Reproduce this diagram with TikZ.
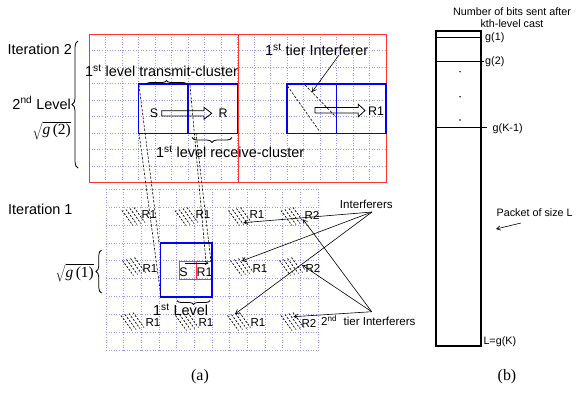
\documentclass[tikz,border=0pt]{standalone}
\usepackage[no-math]{fontspec}
\setmainfont{Liberation Sans}
\newfontfamily\timesf{Liberation Serif}
\usetikzlibrary{arrows.meta,decorations.pathreplacing,calc}
\begin{document}
\begin{tikzpicture}[x=1bp,y=-1bp]
\useasboundingbox (0,0) rectangle (582,393);
\tikzset{
 gridln/.style={draw=blue!40, line width=0.6bp, dotted},
 redbox/.style={draw=red!80!white, line width=1bp},
 bluebox/.style={draw=blue, line width=1.8bp},
 dline/.style={dash pattern=on 2.5bp off 1.5bp, line width=0.6bp},
 hatchln/.style={dash pattern=on 2bp off 1.5bp, line width=0.7bp},
 lbig/.style={font=\fontsize{14.5}{16}\selectfont, inner sep=0},
 lmid/.style={font=\fontsize{11.6}{13}\selectfont, inner sep=0},
 lsr/.style={font=\fontsize{12.5}{14}\selectfont, inner sep=0},
 lsmall/.style={font=\fontsize{10.8}{12.3}\selectfont, inner sep=0},
 ptr/.style={-{Straight Barb[length=4bp,width=4.5bp]}, line width=0.6bp},
 brc/.style={decorate, decoration={brace, amplitude=#1}, line width=0.8bp},
 hatchblk/.pic={\foreach \i in {0,...,3} \draw[hatchln] ({-11.5+4*\i},{-7+(-1)*\i}) -- ++(11,15);}
}
% ---------- top grid ----------
\foreach \k in {0,...,18} \draw[gridln] ({89+16.5*\k},34) -- ({89+16.5*\k},182.5);
\foreach \k in {0,...,9} \draw[gridln] (89,{34+16.5*\k}) -- (386,{34+16.5*\k});
% ---------- bottom grid ----------
\foreach \k in {0,...,12} \draw[gridln] ({106+17.67*\k},189.3) -- ({106+17.67*\k},350.2);
\foreach \k in {0,...,9} \draw[gridln] (106,{189.3+17.87*\k}) -- (318,{189.3+17.87*\k});
% ---------- top boxes ----------
\draw[redbox] (89,34) rectangle (238,182);
\draw[redbox] (238,34) rectangle (386,182);
\draw[dline] (305,85) -- (336,117);
\draw[dline] (287.5,86) -- (320,132);
\draw[bluebox] (138.5,84) rectangle (188,133.5);
\draw[bluebox] (188,84) rectangle (237.5,133.5);
\draw[bluebox] (287,84) rectangle (336.5,133.5);
\draw[bluebox] (336.5,84) rectangle (386,133.5);
% hollow arrows
\draw[line width=0.8bp] (161.7,110.7) -- (204,110.7) -- (204,107.3) -- (211.7,113.3) -- (204,119.3) -- (204,116) -- (161.7,116) -- cycle;
\draw[line width=0.8bp] (315,107.5) -- (358.3,107.5) -- (358.3,104.3) -- (365,110.5) -- (358.3,116.7) -- (358.3,113) -- (315,113) -- cycle;
% top labels
\node[lsr] (S2) at (154,113) {S};
\node[lsr] (R2) at (223,113) {R};
\node[lsr] (R12) at (376,111.5) {R1};
\node[lbig, anchor=west] (txl) at (85,71) {1\textsuperscript{st} level transmit-cluster};
\node[lbig, anchor=west] (rxl) at (156,152) {1\textsuperscript{st} level receive-cluster};
\node[lbig, anchor=west] (tier1) at (265,50) {1\textsuperscript{st} tier Interferer};
\coordinate (t1src) at (339,55);
\coordinate (t1tgt) at (312,92);
\draw[ptr] (t1src) -- (t1tgt);
% braces top
\draw[brc=4bp] (146,84.5) -- (187,84.5);
\draw[brc=5bp] (232,137.5) -- (192,137.5);
% left labels
\node[lbig, anchor=east] (it2) at (72,49) {Iteration 2};
\node[lbig, anchor=east] (lev2) at (71,103) {2\textsuperscript{nd} Level};
\node[inner sep=0, anchor=east, font=\fontsize{15.5}{17}\selectfont] (sq2) at (71,130.5) {$\sqrt{\hbox{\timesf\itshape g\upshape\,(2)}}$};
\draw[brc=6bp] (78,168) -- (78,41);
\node[lbig, anchor=west] (it1) at (8,209) {Iteration 1};
\node[inner sep=0, anchor=east, font=\fontsize{15.5}{17}\selectfont] (sq1) at (94,273) {$\sqrt{\hbox{\timesf\itshape g\upshape\,(1)}}$};
\draw[brc=5.5bp] (101.5,293) -- (101.5,250);
% ---------- bottom hatches ----------
\foreach \x/\y in {133.5/217.5,186.5/217.5,240/217.5,292.5/217.5,134/267.5,242/267.5,291/267.5,132.5/322.5,187/322.5,239/322.5,292.5/322.5}
  \pic at (\x,\y) {hatchblk};
% R labels
\foreach \x/\y/\t in {149/215/R1,203/215/R1,257/215/R1,312/215/R2,150/268.5/R1,260/268.5/R1,313/268.5/R2,153/323/R1,206/323/R1,258/323/R1,309/323/R2}
  \node[lmid] at (\x,\y) {\t};
% bottom boxes
\draw[redbox] (179.3,261.7) rectangle (196.7,279);
\draw[redbox] (196.7,261.7) rectangle (212.3,279);
\node[lsr] (S1) at (183.5,272.7) {S};
\node[lsr] (R11) at (204.5,272.7) {R1};
\draw[bluebox] (160.5,242.7) rectangle (211.7,296.7);
\coordinate (sa) at (185,263);
\coordinate (sb) at (208.5,263);
\draw[-{Straight Barb[length=3bp,width=3.5bp]}, line width=0.6bp] (sa) -- (sb);
% dashed projection lines
\draw[dline] (139,85) -- (159,243);
\draw[dline] (139,133) -- (161,297);
\draw[dline] (190,85) -- (206,262);
\draw[dline] (196,133) -- (211,262);
% 1st Level
\draw[brc=4bp] (210,300.5) -- (177,300.5);
\node[lbig, anchor=west] (lev1) at (153,309.5) {1\textsuperscript{st} Level};
% interferers
\node[lmid] (intf) at (366.3,204) {Interferers};
\coordinate (isrc) at (372,212);
\draw[ptr] (isrc) -- (243.3,222.7);
\draw[ptr] (isrc) -- (241.7,261);
\draw[ptr] (isrc) -- (235,314);
\node[lmid, anchor=west] (intf2) at (321,320.5) {2\textsuperscript{nd}\ \ tier Interferers};
\coordinate (i2src) at (371.7,311.7);
\draw[ptr] (i2src) -- (303,219.3);
\draw[ptr] (i2src) -- (302,265);
\draw[ptr] (i2src) -- (293.3,316.7);
% captions
\node[inner sep=0, font=\timesf\fontsize{16}{18}\selectfont] (capa) at (200,377) {(a)};
\node[inner sep=0, font=\timesf\fontsize{16}{18}\selectfont] (capb) at (507,377) {(b)};
% ---------- panel (b) ----------
\draw[line width=1.4bp] (436,31) rectangle (481,346);
\draw[line width=0.6bp] (436,37) -- (481,37);
\draw[line width=0.9bp] (436,61) -- (484,61);
\draw[line width=0.9bp] (436,127.3) -- (487,127.3);
\foreach \y in {71.7,96.7,120} \fill (460,\y) circle (0.8bp);
\node[lsmall, align=center] (hdr) at (512,18) {Number of bits sent after\\kth-level cast};
\node[lsmall, anchor=west] (g1) at (485,38) {g(1)};
\node[lsmall, anchor=west] (g2) at (485,61.7) {g(2)};
\node[lsmall, anchor=west] (gk1) at (492.5,128.3) {g(K-1)};
\node[lsmall, anchor=west] (gk) at (483.3,341.7) {L=g(K)};
\node[lsmall, anchor=west] (pkt) at (496.5,212.3) {Packet of size L};
\coordinate (pa) at (521,223);
\coordinate (pb) at (496,229);
\draw[ptr] (pa) -- (pb);
\end{tikzpicture}
\end{document}
